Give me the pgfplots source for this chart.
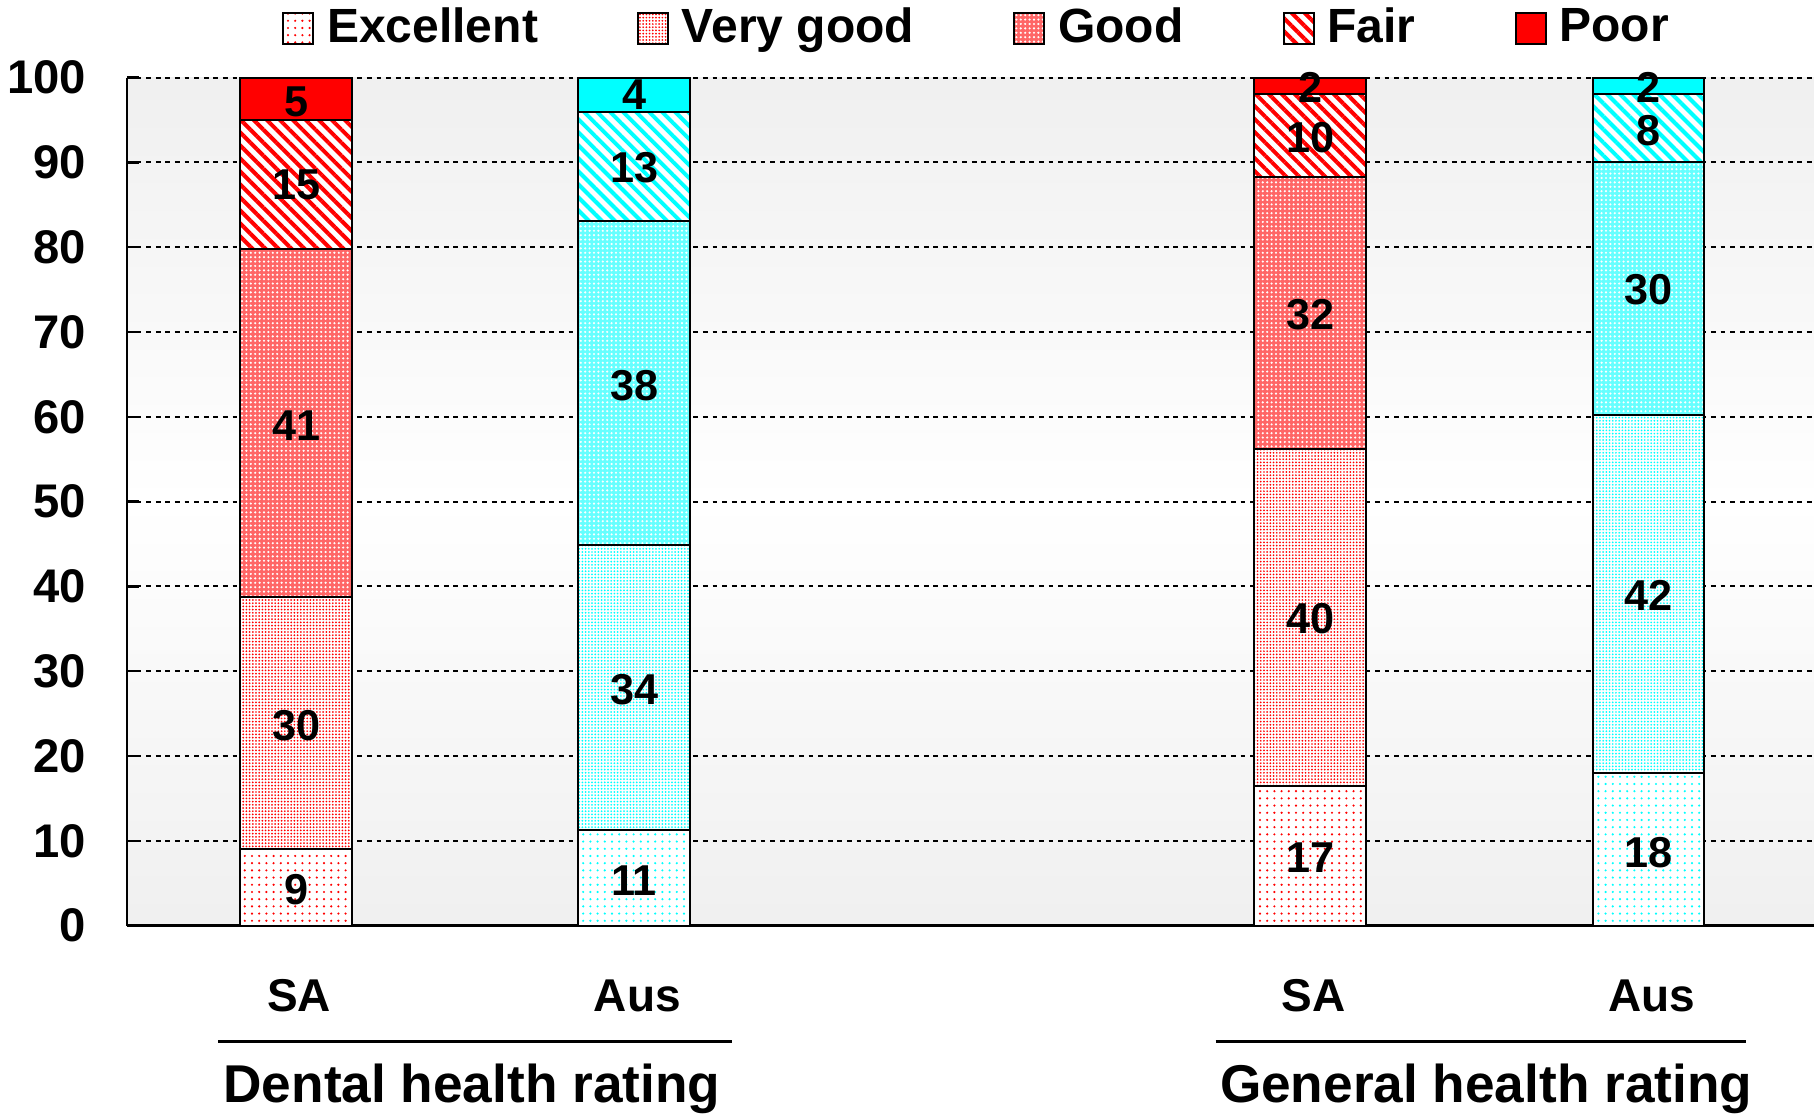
\documentclass[border=0pt]{standalone}
\usepackage{pgfplots}
\pgfplotsset{compat=1.18}
\usepackage{pgfplotstable}
\usepackage{fontspec}
\setmainfont{Liberation Sans}
\usetikzlibrary{patterns.meta}

\definecolor{cR}{RGB}{255,0,0}
\definecolor{cC}{RGB}{0,255,255}

\tikzset{
  pExc/.style={preaction={fill=white}, pattern={Dots[distance=1.8pt,radius=0.3pt]}, pattern color=#1},
  pVG/.style={preaction={fill=white}, pattern={Dots[distance=0.8pt,radius=0.24pt]}, pattern color=#1},
  pGood/.style={preaction={fill=#1!60!white}, pattern={Dots[distance=1.1pt,radius=0.3pt]}, pattern color=white},
  pFair/.style={preaction={fill=white}, pattern={Lines[angle=-45,distance=2.3pt,line width=1pt]}, pattern color=#1},
  pPoor/.style={fill=#1},
}

% Segment values (percent), stacked bottom to top
\pgfplotstableread{
x exc vg good fair poor
0 9.0 29.7 41.1 15.2 5.0
3 16.5 39.7 32.1 9.8 1.9
}\SAdata
\pgfplotstableread{
x exc vg good fair poor
1 11.3 33.6 38.2 12.9 4.0
4 18.0 42.2 29.8 8.1 1.9
}\AUSdata
% Value labels
\pgfplotstableread{
x y label
0 4.2 9
0 23.6 30
0 58.9 41
0 87.3 15
0 97.1 5
1 5.3 11
1 27.8 34
1 63.7 38
1 89.4 13
1 98.0 4
3 8.0 17
3 36.2 40
3 72.0 32
3 92.9 10
3 98.8 2
4 8.6 18
4 38.9 42
4 75.0 30
4 93.7 8
4 98.9 2
}\labeldata

\pgfplotsset{
  base/.style={
    scale only axis, width=421.75pt, height=212pt,
    xmin=-0.5, xmax=4.49, ymin=0, ymax=100,
    clip=false,
  },
  bars/.style={ybar stacked, bar width=0.33},
}

\begin{document}
\begin{tikzpicture}
\begin{axis}[base, bars,
  axis background/.style={top color=black!6, bottom color=black!6, middle color=white},
  axis x line*=bottom, axis y line*=left,
  axis line style={line width=0.6pt, -},
  ytick={0,10,...,100},
  xtick={0,1,3,4}, xticklabels={SA,Aus,SA,Aus},
  major tick length=3pt, tick align=inside,
  ytick style={black, line width=0.6pt},
  xtick style={draw=none},
  ymajorgrids,
  grid style={black, line width=0.5pt, dash pattern=on 1.2pt off 1.2pt},
  yticklabel style={font=\fontsize{11.8}{13}\selectfont\bfseries, inner sep=0pt, xshift=-10pt},
  xticklabel style={font=\fontsize{11.5}{13}\selectfont\bfseries, inner sep=0pt, anchor=base, xshift=0.8pt, yshift=-21.5pt},
  /pgf/number format/assume math mode=true,
  legend columns=5,
  legend style={at={(0.503,1.058)}, anchor=center, draw=none, fill=none, inner sep=0pt,
    font=\fontsize{12}{14}\selectfont\bfseries,
    nodes={inner sep=0pt},
    /tikz/every odd column/.append style={column sep=3.2pt},
    /tikz/every even column/.append style={column sep=24.8pt}},
  legend image code/.code={\draw[#1, draw=black, line width=0.5pt] (0pt,-3.9pt) rectangle (7.5pt,3.9pt);},
]
\addplot[pExc=cR, draw=black, line width=0.5pt] table[x=x,y=exc] {\SAdata};
\addplot[pVG=cR, draw=black, line width=0.5pt] table[x=x,y=vg] {\SAdata};
\addplot[pGood=cR, draw=black, line width=0.5pt] table[x=x,y=good] {\SAdata};
\addplot[pFair=cR, draw=black, line width=0.5pt] table[x=x,y=fair] {\SAdata};
\addplot[pPoor=cR, draw=black, line width=0.5pt] table[x=x,y=poor] {\SAdata};
\legend{Excellent, Very good, Good, Fair, Poor}

\draw[line width=0.6pt] ([yshift=-29pt]axis cs:-0.23,0) -- ([yshift=-29pt]axis cs:1.29,0);
\draw[line width=0.6pt] ([yshift=-29pt]axis cs:2.72,0) -- ([yshift=-29pt]axis cs:4.29,0);
\node[anchor=base, inner sep=0pt, font=\fontsize{13.3}{16}\selectfont\bfseries] at ([yshift=-44.2pt]axis cs:0.52,0) {Dental health rating};
\node[anchor=base, inner sep=0pt, font=\fontsize{13.3}{16}\selectfont\bfseries] at ([yshift=-44.2pt]axis cs:3.52,0) {General health rating};
\end{axis}

\begin{axis}[base, bars, hide axis]
\addplot[pExc=cC, draw=black, line width=0.5pt] table[x=x,y=exc] {\AUSdata};
\addplot[pVG=cC, draw=black, line width=0.5pt] table[x=x,y=vg] {\AUSdata};
\addplot[pGood=cC, draw=black, line width=0.5pt] table[x=x,y=good] {\AUSdata};
\addplot[pFair=cC, draw=black, line width=0.5pt] table[x=x,y=fair] {\AUSdata};
\addplot[pPoor=cC, draw=black, line width=0.5pt] table[x=x,y=poor] {\AUSdata};
\end{axis}

\begin{axis}[base, hide axis]
\addplot[draw=none, mark=none, nodes near coords, point meta=explicit symbolic,
  nodes near coords align=center,
  every node near coord/.append style={font=\fontsize{10.8}{13}\selectfont\bfseries, inner sep=0pt}]
  table[x=x,y=y,meta=label] {\labeldata};
\end{axis}
\pgfresetboundingbox
\useasboundingbox (-31.75pt,-47.4pt) rectangle (421.75pt,231.4pt);
\end{tikzpicture}
\end{document}
